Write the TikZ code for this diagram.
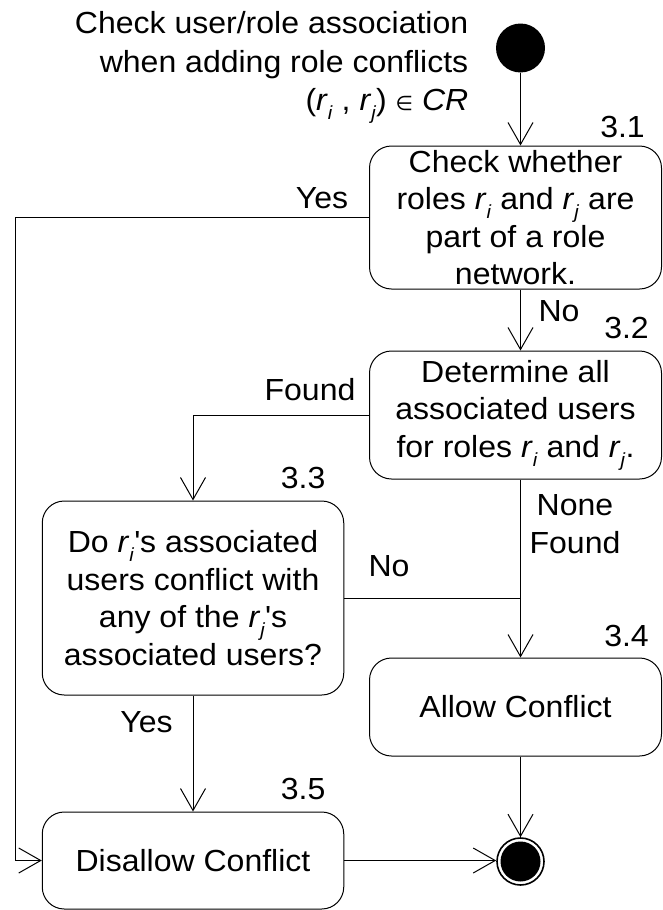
\documentclass[tikz,border=0pt]{standalone}
\usepackage{fontspec}
\setmainfont[FakeStretch=1.05]{Liberation Sans}
\newfontfamily\symfont{DejaVu Sans}
\usetikzlibrary{arrows.meta}
% italic r with a lowered subscript
\newcommand\rsub[1]{\textit{r}\raisebox{-0.3em}{\fontsize{19}{19}\selectfont\textit{#1}}}

\begin{document}
\begin{tikzpicture}[x=1pt,y=-1pt,
  every node/.style={font=\fontsize{30.5}{37.5}\selectfont},
  box/.style={draw, line width=1pt, rounded corners=22pt, align=center, inner sep=0pt},
  lbl/.style={inner sep=0pt},
  arr/.style={line width=1pt, -{Straight Barb[length=22pt,width=25pt,line width=1pt]}},
  ln/.style={line width=1pt}]
\useasboundingbox (0,0) rectangle (663,910);

% title
\node[lbl, anchor=base east] (t1) at (468.5,33.3) {Check user/role association};
\node[lbl, anchor=base east] (t2) at (468.5,72.5) {when adding role conflicts};
\node[lbl, anchor=base east] (t3) at (468.5,110) {(\rsub{i} , \rsub{j}) {\symfont\fontsize{20}{20}\selectfont ∈} \textit{CR}};

% initial and final states
\node[circle, fill=black, minimum size=49pt, inner sep=0pt] (start) at (520.5,48) {};
\node[circle, draw, line width=1.6pt, minimum size=47pt, inner sep=0pt] (end) at (520.5,861.5) {};
\fill (end.center) circle (20pt);

% activities
\node[box, minimum width=292pt, minimum height=143pt] (b1) at (515.5,217.5)
  {Check whether\\roles \rsub{i} and \rsub{j} are\\part of a role\\network.};
\node[box, minimum width=292pt, minimum height=128pt] (b2) at (515.5,415)
  {Determine all\\associated users\\for roles \rsub{i} and \rsub{j}.};
\node[box, minimum width=301.5pt, minimum height=194pt] (b3) at (193,598)
  {Do \rsub{i}\textquotesingle s associated\\users conflict with\\any of the \rsub{j}\textquotesingle s\\associated users?};
\node[box, minimum width=292pt, minimum height=98pt] (b4) at (515.5,707) {Allow Conflict};
\node[box, minimum width=301.5pt, minimum height=97pt] (b5) at (193,860.5) {Disallow Conflict};

% step numbers
\node[lbl, anchor=east] (n1) at (645,127) {3.1};
\node[lbl, anchor=east] (n2) at (649,328) {3.2};
\node[lbl, anchor=east] (n3) at (325.6,478) {3.3};
\node[lbl, anchor=east] (n4) at (649,636) {3.4};
\node[lbl, anchor=east] (n5) at (325.6,789) {3.5};

% guard labels
\node[lbl] (g1) at (322,198) {Yes};
\node[lbl] (g2) at (559,311) {No};
\node[lbl] (g3) at (310,390) {Found};
\node[lbl, align=center] (g4) at (575,524) {None\\Found};
\node[lbl] (g5) at (389,566) {No};
\node[lbl] (g6) at (146.5,721.7) {Yes};

% transitions
\coordinate (ycorner) at (15,217.5);
\draw[arr] (start) -- (start |- b1.north);
\draw[arr] (b1.south -| start) -- (b2.north -| start);
\draw[arr] (b1.west) -- (ycorner) |- (b5.west);
\draw[arr] (b2.west) -| (b3.north);
\draw[arr] (b2.south -| start) -- (b4.north -| start);
\draw[ln] (b3.east) -- (b3.east -| start);
\draw[arr] (b3.south) -- (b5.north);
\draw[arr] (b4.south -| start) -- (end);
\draw[arr] (b5.east) -- (b5.east -| end.west);
\end{tikzpicture}
\end{document}
